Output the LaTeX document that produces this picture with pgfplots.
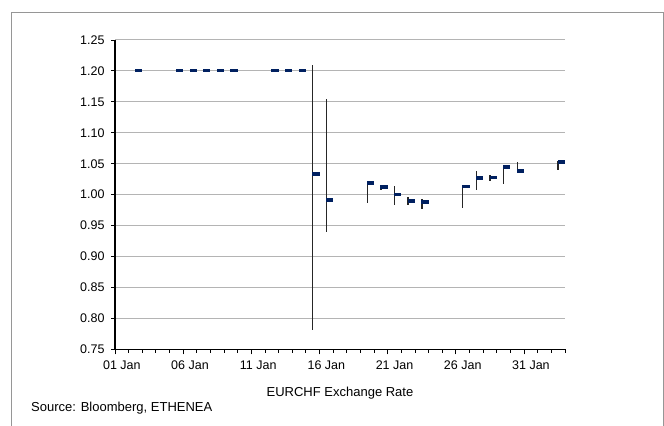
\documentclass[border=0pt]{standalone}
\usepackage{pgfplots}
\pgfplotsset{compat=1.18}
\usepackage{pgfplotstable}
\usepackage{fontspec}
\setmainfont{Liberation Sans}
\definecolor{navy}{RGB}{0,32,96}
\definecolor{gridgray}{RGB}{180,180,180}
\definecolor{framegray}{RGB}{150,150,150}
\pgfdeclareplotmark{closedash}{%
  \pgfpathrectangle{\pgfpoint{-0.5bp}{-1.75bp}}{\pgfpoint{7.3bp}{3.5bp}}%
  \pgfusepathqfill}
% day (1 = 01 Jan 2015, 33 = 02 Feb 2015), high, low, close
\pgfplotstableread{
day high low close
2  1.201 1.201 1.201
5  1.201 1.201 1.201
6  1.201 1.201 1.201
7  1.201 1.201 1.201
8  1.201 1.201 1.201
9  1.201 1.201 1.201
12 1.201 1.201 1.201
13 1.201 1.201 1.201
14 1.201 1.201 1.201
15 1.210 0.781 1.033
16 1.155 0.940 0.991
19 1.022 0.986 1.019
20 1.016 1.007 1.012
21 1.0145 0.984 1.000
22 0.996 0.984 0.990
23 0.993 0.977 0.988
26 1.016 0.979 1.013
27 1.038 1.008 1.027
28 1.032 1.022 1.028
29 1.047 1.018 1.045
30 1.052 1.037 1.038
33 1.054 1.040 1.053
}\eurchf
\begin{document}
\begin{tikzpicture}
\useasboundingbox (0,0) rectangle (664bp,426bp);
\fill[white] (0,0) rectangle (664bp,426bp);
\draw[framegray, line width=1bp] (11bp,-5bp) -- (11bp,413bp) -- (663bp,413bp) -- (663bp,-5bp);
\begin{axis}[
  at={(115bp,76.7bp)}, anchor=south west,
  width=450bp, height=309.3bp, scale only axis,
  xmin=0.5, xmax=33.5, ymin=0.75, ymax=1.25,
  axis x line*=bottom, axis y line*=left,
  axis line style={black, line width=1.3bp},
  ytick={0.75,0.80,...,1.26},
  yticklabel style={/pgf/number format/fixed, /pgf/number format/precision=2, /pgf/number format/fixed zerofill, xshift=-3bp},
  xticklabel style={yshift=-4bp},
  ymajorgrids, major grid style={gridgray, line width=1bp},
  xtick={1,6,11,16,21,26,31},
  xticklabels={01 Jan,06 Jan,11 Jan,16 Jan,21 Jan,26 Jan,31 Jan},
  x tick style={draw=none},
  minor xtick={1.5,2.5,...,33.5},
  extra x ticks={0.5,5.5,10.5,15.5,20.5,25.5,30.5},
  extra x tick labels={},
  extra x tick style={x tick style={draw=black, line width=0.9bp}, major tick length=5bp},
  minor x tick style={draw=black, line width=0.9bp},
  minor tick length=3.5bp,
  y tick style={draw=black, line width=0.9bp},
  major tick length=4bp,
  tick align=outside,
  tick label style={font=\fontsize{12.5bp}{14bp}\selectfont},
  /pgf/number format/assume math mode=true,
  clip=false,
]
\addplot[draw=none, mark=closedash, mark options={fill=navy, draw=none},
  error bars/.cd, y dir=both, y explicit,
  error bar style={color=black!85, line width=1.5bp}, error mark=none]
  table[x=day, y=close,
        y error plus expr=\thisrow{high}-\thisrow{close},
        y error minus expr=\thisrow{close}-\thisrow{low}] {\eurchf};
\end{axis}
\node[font=\fontsize{13bp}{15bp}\selectfont] at (340bp,33bp) {EURCHF Exchange Rate};
\node[anchor=west, font=\fontsize{13bp}{15bp}\selectfont, inner sep=0pt] at (31bp,18bp) {Source: Bloomberg, ETHENEA};
\end{tikzpicture}
\end{document}
